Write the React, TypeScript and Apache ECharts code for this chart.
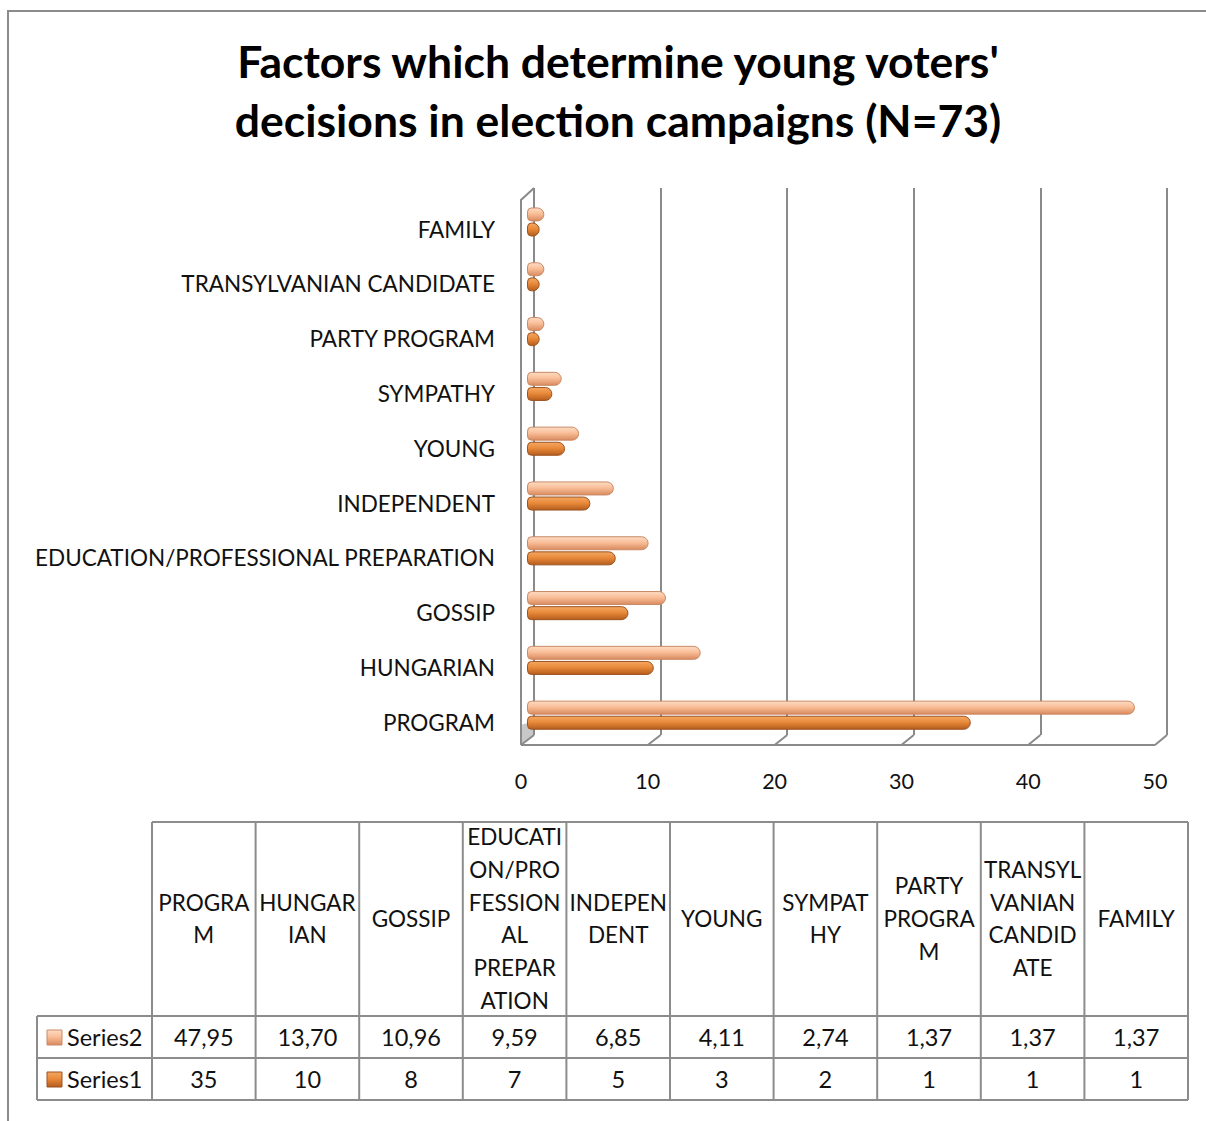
import React, { useEffect, useRef } from "react";
import * as echarts from "echarts";

const categories = [
  "PROGRAM",
  "HUNGARIAN",
  "GOSSIP",
  "EDUCATION/PROFESSIONAL PREPARATION",
  "INDEPENDENT",
  "YOUNG",
  "SYMPATHY",
  "PARTY PROGRAM",
  "TRANSYLVANIAN CANDIDATE",
  "FAMILY",
];
const headerLabels = [
  "PROGRA\nM",
  "HUNGAR\nIAN",
  "GOSSIP",
  "EDUCATI\nON/PRO\nFESSION\nAL\nPREPAR\nATION",
  "INDEPEN\nDENT",
  "YOUNG",
  "SYMPAT\nHY",
  "PARTY\nPROGRA\nM",
  "TRANSYL\nVANIAN\nCANDID\nATE",
  "FAMILY",
];
const series2 = [47.95, 13.7, 10.96, 9.59, 6.85, 4.11, 2.74, 1.37, 1.37, 1.37];
const series1 = [35, 10, 8, 7, 5, 3, 2, 1, 1, 1];
const series2Text = ["47,95", "13,70", "10,96", "9,59", "6,85", "4,11", "2,74", "1,37", "1,37", "1,37"];
const series1Text = ["35", "10", "8", "7", "5", "3", "2", "1", "1", "1"];
const seriesNames = ["Series2", "Series1"];
const xTicks = [0, 10, 20, 30, 40, 50];

const FONT = "Lato";
const GRID_C = "#8a8a8a";

const lightGrad = new echarts.graphic.LinearGradient(0, 0, 0, 1, [
  { offset: 0, color: "#FDDCC4" },
  { offset: 0.45, color: "#F9BE98" },
  { offset: 1, color: "#D98A5E" },
]);
const darkGrad = new echarts.graphic.LinearGradient(0, 0, 0, 1, [
  { offset: 0, color: "#F4A863" },
  { offset: 0.45, color: "#E98A3B" },
  { offset: 1, color: "#B55D1D" },
]);

export default function App() {
  const ref = useRef<HTMLDivElement>(null);
  useEffect(() => {
    const chart = echarts.init(ref.current!, null, { renderer: "svg" });

    const backL = 534, backR = 1167, backT = 188, backB = 735;
    const frontL = 521, frontR = 1155, frontB = 745;
    const tblX0 = 152, tblX1 = 1188, colW = (tblX1 - tblX0) / 10;
    const tblTop = 822, hdrBot = 1016, rowH = 42, labX = 37;

    const graphics: any[] = [];
    graphics.push({
      type: "rect",
      shape: { x: 8, y: 11, width: 1250, height: 1200 },
      style: { fill: "none", stroke: "#8c8c8c", lineWidth: 2 },
      silent: true,
    });
    graphics.push({
      type: "polygon",
      shape: { points: [[frontL, backB - 10], [backL, backB - 14], [backL, backB], [frontL, frontB]] },
      style: { fill: "#c8c8c8" },
      z: -1,
    });
    graphics.push({
      type: "polyline",
      shape: { points: [[frontL, frontB], [frontL, backT + 12], [backL, backT]] },
      style: { stroke: GRID_C, lineWidth: 2, fill: "none" },
    });
    graphics.push({
      type: "line",
      shape: { x1: frontL, y1: frontB, x2: frontR, y2: frontB },
      style: { stroke: GRID_C, lineWidth: 2 },
    });
    xTicks.forEach((t) => {
      const xb = backL + ((backR - backL) * t) / 50;
      const xf = frontL + ((frontR - frontL) * t) / 50;
      graphics.push({
        type: "line",
        shape: { x1: xb, y1: backB, x2: xf, y2: frontB },
        style: { stroke: GRID_C, lineWidth: 2 },
      });
    });

    const lineStyle = { stroke: "#8c8c8c", lineWidth: 2 };
    const yRows = [hdrBot, hdrBot + rowH, hdrBot + 2 * rowH];
    graphics.push({ type: "line", shape: { x1: tblX0, y1: tblTop, x2: tblX1, y2: tblTop }, style: lineStyle });
    yRows.forEach((y) =>
      graphics.push({ type: "line", shape: { x1: labX, y1: y, x2: tblX1, y2: y }, style: lineStyle })
    );
    for (let i = 0; i <= 10; i++) {
      const x = tblX0 + i * colW;
      graphics.push({ type: "line", shape: { x1: x, y1: tblTop, x2: x, y2: yRows[2] }, style: lineStyle });
    }
    graphics.push({ type: "line", shape: { x1: labX, y1: hdrBot, x2: labX, y2: yRows[2] }, style: lineStyle });

    headerLabels.forEach((h, i) => {
      graphics.push({
        type: "text",
        x: tblX0 + (i + 0.5) * colW,
        y: (tblTop + hdrBot) / 2 - 0.5,
        style: {
          text: h,
          font: `22.5px ${FONT}`,
          fill: "#111",
          align: "center",
          verticalAlign: "middle",
          lineHeight: 32.7,
        },
      });
    });
    [series2Text, series1Text].forEach((arr, r) => {
      arr.forEach((v, i) => {
        graphics.push({
          type: "text",
          x: tblX0 + (i + 0.5) * colW,
          y: hdrBot + (r + 0.5) * rowH,
          style: { text: v, font: `23.5px ${FONT}`, fill: "#111", align: "center", verticalAlign: "middle" },
        });
      });
      const cy = hdrBot + (r + 0.5) * rowH;
      graphics.push({
        type: "rect",
        shape: { x: 47, y: cy - 7, width: 15, height: 15 },
        style: {
          fill: r === 0 ? lightGrad : darkGrad,
          stroke: r === 0 ? "#c98a66" : "#9c5320",
          lineWidth: 1,
        },
      });
      graphics.push({
        type: "text",
        x: 67,
        y: cy,
        style: { text: seriesNames[r], font: `23.5px ${FONT}`, fill: "#111", align: "left", verticalAlign: "middle" },
      });
    });

    const option: any = {
      animation: false,
      backgroundColor: "#ffffff",
      title: {
        text: "Factors which determine young voters'\ndecisions in election campaigns (N=73)",
        left: 613,
        textAlign: "center",
        top: 26,
        textStyle: { fontFamily: FONT, fontWeight: "bold", fontSize: 44.5, lineHeight: 59, color: "#000" },
      },
      grid: [
        { left: 527, top: 194.6, width: 634, height: 548, containLabel: false },
        { left: backL, top: backT, width: backR - backL, height: backB - backT },
        { left: frontL, top: frontB - 1, width: frontR - frontL, height: 1 },
      ],
      xAxis: [
        { gridIndex: 0, type: "value", min: 0, max: 50, interval: 10, axisLabel: { show: false }, axisLine: { show: false }, axisTick: { show: false }, splitLine: { show: false } },
        {
          gridIndex: 1, type: "value", min: 0, max: 50, interval: 10,
          axisLabel: { show: false }, axisLine: { show: false }, axisTick: { show: false },
          splitLine: { show: true, lineStyle: { color: GRID_C, width: 2 } },
        },
        {
          gridIndex: 2, type: "value", min: 0, max: 50, interval: 10,
          axisLine: { show: false }, axisTick: { show: false }, splitLine: { show: false },
          axisLabel: { margin: 25, fontFamily: FONT, fontSize: 21.5, color: "#111" },
        },
      ],
      yAxis: [
        {
          gridIndex: 0, type: "category", data: categories,
          axisLine: { show: false }, axisTick: { show: false },
          axisLabel: {
            margin: 32, fontFamily: FONT, fontSize: 22.5, color: "#111",
            verticalAlign: "top", lineHeight: 14,
          },
        },
        { gridIndex: 1, type: "value", show: false },
        { gridIndex: 2, type: "value", show: false },
      ],
      series: [
        {
          name: "Series2", type: "bar", xAxisIndex: 0, yAxisIndex: 0, data: series2,
          barWidth: 14, barGap: "8%",
          itemStyle: { color: lightGrad, borderColor: "#c98a66", borderWidth: 1, borderRadius: [4, 7, 7, 4] },
        },
        {
          name: "Series1", type: "bar", xAxisIndex: 0, yAxisIndex: 0, data: series1,
          barWidth: 14, barGap: "8%",
          itemStyle: { color: darkGrad, borderColor: "#9c5320", borderWidth: 1, borderRadius: [4, 7, 7, 4] },
        },
      ],
      graphic: graphics,
    };
    chart.setOption(option);
    return () => chart.dispose();
  }, []);
  return <div ref={ref} style={{ position: "absolute", left: 0, top: 0, width: 1206, height: 1121 }} />;
}
